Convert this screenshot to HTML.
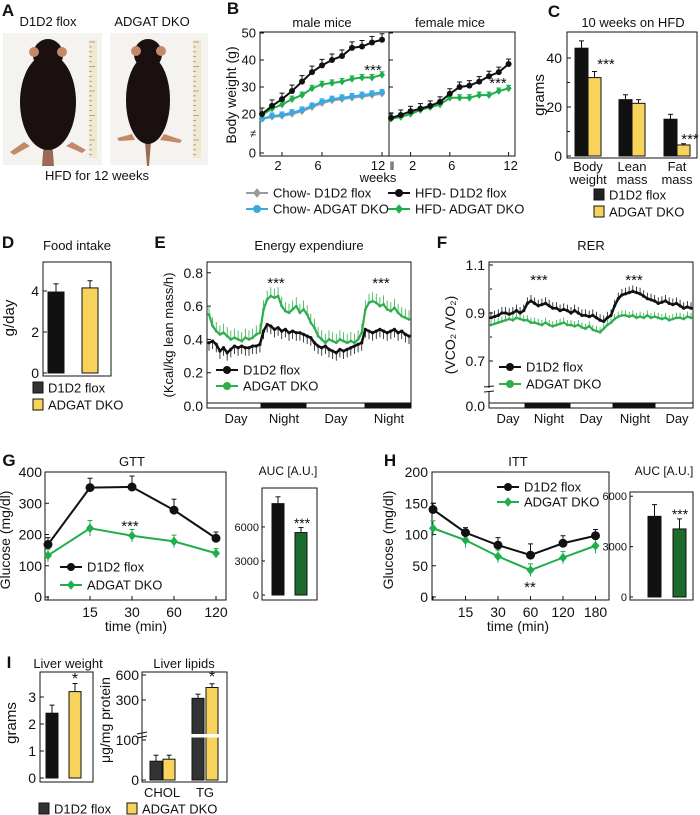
<!DOCTYPE html>
<html><head><meta charset="utf-8"><style>
html,body{margin:0;padding:0;background:#fff;}
svg{display:block;font-family:"Liberation Sans",sans-serif;}
</style></head><body>
<svg id="fig" width="700" height="815" viewBox="0 0 700 815"></svg>
<script>
// ---- data ----
const bWeeks=[0,1,2,3,4,5,6,7,8,9,10,11,12];
const maleHfdFlox=[20,23,25.5,28.5,32,35.5,38,40,41.5,44.5,45,46.5,47.5];
const maleHfdDko=[19.5,22,23.5,25.5,27,29.5,31,31.5,32,33,33.5,33.5,34.5];
const maleChowFlox=[17.5,18.5,19,20,21,22.5,24,25,25.5,26,26.5,27,27.5];
const maleChowDko=[17.5,19,19.5,20.5,21.5,23,24.5,25.5,26,26.5,27,27.5,28];
const femHfdFlox=[18,19.5,21,22,23,24.5,27.5,30,30.5,32,34,35.5,38.5];
const femHfdDko=[17.5,18.5,20,21.5,22.5,23.5,26,26,26,27,27,28.5,29.5];
const cCats=["Body weight","Lean mass","Fat mass"];
const cFlox=[44,23,15], cFloxErr=[3,2,2];
const cDko=[32,21.5,4.5], cDkoErr=[2.5,1.5,0.5];
const dVals=[3.95,4.15], dErr=[0.4,0.35];
const eFlox=[0.38,0.39,0.37,0.33,0.35,0.32,0.34,0.36,0.35,0.36,0.35,0.35,0.36,0.36,0.37,
0.45,0.49,0.48,0.46,0.47,0.45,0.46,0.44,0.45,0.44,0.44,0.43,
0.42,0.41,0.38,0.36,0.35,0.36,0.34,0.33,0.32,0.34,0.33,0.34,0.35,0.36,0.37,0.38,
0.46,0.45,0.44,0.45,0.46,0.45,0.44,0.45,0.46,0.44,0.45,0.43,0.42];
const eDko=[0.55,0.48,0.45,0.43,0.44,0.42,0.40,0.41,0.40,0.39,0.41,0.40,0.41,0.43,0.44,
0.58,0.64,0.66,0.65,0.66,0.60,0.57,0.56,0.58,0.60,0.56,0.58,
0.55,0.50,0.47,0.42,0.40,0.38,0.40,0.39,0.38,0.40,0.39,0.38,0.39,0.38,0.40,0.44,
0.58,0.62,0.63,0.62,0.60,0.61,0.58,0.57,0.59,0.56,0.54,0.53,0.52];
const fFlox=[0.88,0.885,0.89,0.90,0.90,0.895,0.90,0.91,0.90,0.91,
0.94,0.95,0.94,0.93,0.935,0.94,0.93,0.92,0.92,0.91,0.915,0.91,
0.90,0.91,0.90,0.89,0.89,0.885,0.89,0.88,0.87,0.865,0.88,0.89,
0.93,0.96,0.975,0.98,0.985,0.99,0.985,0.98,0.97,0.96,0.955,0.95,
0.94,0.945,0.95,0.94,0.935,0.94,0.93,0.92,0.925,0.92];
const fDko=[0.85,0.855,0.86,0.865,0.87,0.875,0.87,0.88,0.875,0.87,
0.87,0.86,0.86,0.855,0.85,0.86,0.85,0.845,0.85,0.855,0.86,0.85,
0.85,0.845,0.85,0.84,0.835,0.845,0.83,0.825,0.82,0.835,0.85,0.86,
0.875,0.885,0.89,0.89,0.885,0.89,0.88,0.885,0.88,0.89,0.88,0.885,
0.88,0.875,0.88,0.87,0.875,0.88,0.88,0.875,0.885,0.88];
const gTimes=["0","15","30","60","120"];
const gFlox=[168,350,352,278,188], gFloxErr=[22,30,35,35,20];
const gDko=[133,220,196,178,140], gDkoErr=[20,25,20,20,15];
const gAuc=[8050,5500], gAucErr=[600,450];
const hTimes=["0","15","30","60","120","180"];
const hFlox=[140,103,83,67,86,98], hFloxErr=[10,8,12,18,12,10];
const hDko=[110,91,65,43,63,82], hDkoErr=[12,12,10,10,10,12];
const hAuc=[4800,4050], hAucErr=[700,600];
const iWeight=[2.4,3.2], iWeightErr=[0.3,0.3];
const iChol=[47,52], iCholErr=[15,10];
const iTg=[320,450], iTgErr=[50,45];

// ---- helpers ----
const NS='http://www.w3.org/2000/svg';
const svg=document.getElementById('fig');
function mk(tag,attrs,name,parent){
  const el=document.createElementNS(NS,tag);
  for(const k in attrs) el.setAttribute(k,attrs[k]);
  
  
  (parent||svg).appendChild(el);
  return el;
}
function T(x,y,s,size,name,anchor,extra){
  const a=Object.assign({x:x,y:y,'font-size':size,'text-anchor':anchor||'middle',fill:'#111'},extra||{});
  const t=mk('text',a,name);
  t.textContent=s;return t;
}
function VT(x,y,s,size,name){ return T(x,y,s,size,name,'middle',{transform:`rotate(-90 ${x} ${y})`}); }
function L(x1,y1,x2,y2,name,col,w){ return mk('line',{x1:x1,y1:y1,x2:x2,y2:y2,stroke:col||'#111','stroke-width':w||1},name); }
function R(x,y,w,h,name,fill,stroke){ return mk('rect',{x:x,y:y,width:w,height:h,fill:fill||'none',stroke:stroke||'#111','stroke-width':1},name); }
function err(x,y1,y2,name,col){ L(x,y1,x,y2,name,col||'#111',1); L(x-2.5,y2,x+2.5,y2,name+'-cap',col||'#111',1); }
function marker(x,y,shape,col,name,r){
  r=r||3.5;
  if(shape==='d') return mk('path',{d:`M${x} ${y-r-0.8}L${x+r} ${y}L${x} ${y+r+0.8}L${x-r} ${y}Z`,fill:col},name);
  return mk('circle',{cx:x,cy:y,r:r,fill:col},name);
}
function series(xs,ys,col,w,shape,name,errs,r,errBoth){
  mk('polyline',{points:xs.map((x,i)=>x+','+ys[i]).join(' '),fill:'none',stroke:col,'stroke-width':w},name+'-line');
  xs.forEach((x,i)=>{
    if(errs){ err(x,ys[i],ys[i]-errs[i],name+'-err',col); if(errBoth) L(x,ys[i],x,ys[i]+errs[i],name+'-err-low',col,1); }
    marker(x,ys[i],shape,col,name+'-point',r);
  });
}
// dense time series: thin cap-less error bars in one direction (dir=-1 up, +1 down)
function tseries(xs,ys,col,w,name,errPx,dir,r){
  xs.forEach((x,i)=>{ L(x,ys[i],x,ys[i]+dir*errPx,name+'-err',col,0.8); });
  mk('polyline',{points:xs.map((x,i)=>x+','+ys[i]).join(' '),fill:'none',stroke:col,'stroke-width':w},name+'-line');
  xs.forEach((x,i)=>{ marker(x,ys[i],'c',col,name+'-point',r); });
}
function legendLine(x,y,col,shape,label,name){
  L(x,y,x+22,y,name+'-line',col,2);
  marker(x+11,y,shape,col,name+'-marker',4);
  T(x+27,y+4.5,label,13,name+'-label','start');
}
function legendBox(x,y,col,label,name){
  R(x,y-6,10,11,name+'-swatch',col,'#111');
  T(x+15,y+4.5,label,13,name+'-label','start');
}
const GREEN='#1fae4b', LGREEN='#2fae4e', BLUE='#3aa9e0', GRAY='#9a9a9a', YEL='#f8d35c', DGREEN='#1d6b2c';

// ---- Panel A ----
T(8,16,'A',17,'panel-a-label','middle',{'font-weight':'bold'});
T(48,26,'D1D2 flox',13,'photo-label-flox');
T(152,26,'ADGAT DKO',13,'photo-label-dko');
R(3,33,99,132,'photo-flox','#f5f3f0','none');
R(110,33,98,132,'photo-dko','#f5f3f0','none');
[[89,'ruler-flox'],[193,'ruler-dko']].forEach(([rx,n])=>{
  R(rx,40,8,118,n,'#f1e8d2','none');
  for(let k=0;k<24;k++) L(rx,42+k*4.9,rx+(k%5===0?6:3),42+k*4.9,n+'-tick','#8a7a60',0.6);
});
mk('path',{d:'M42 166L44 140L52 140L54 166Z',fill:'#9a6a55'},'mouse-flox-tail');
mk('path',{d:'M147 166L145 142L151 142L149 166Z',fill:'#9a6a55'},'mouse-dko-tail');
mk('ellipse',{cx:48,cy:102,rx:28,ry:48,fill:'#1a1010'},'mouse-flox-body');
mk('ellipse',{cx:48,cy:55,rx:15,ry:16,fill:'#1a1010'},'mouse-flox-head');
mk('circle',{cx:34,cy:52,r:5,fill:'#c48a68'},'mouse-flox-ear');
mk('circle',{cx:62,cy:52,r:5,fill:'#c48a68'},'mouse-flox-ear');
mk('path',{d:'M24 142L10 152L14 155L30 146Z M72 142L86 150L82 153L66 146Z',fill:'#c48a68'},'mouse-flox-feet');
mk('ellipse',{cx:148,cy:100,rx:22,ry:44,fill:'#1a1010'},'mouse-dko-body');
mk('ellipse',{cx:148,cy:54,rx:14,ry:15,fill:'#1a1010'},'mouse-dko-head');
mk('circle',{cx:136,cy:51,r:5,fill:'#c48a68'},'mouse-dko-ear');
mk('circle',{cx:161,cy:51,r:5,fill:'#c48a68'},'mouse-dko-ear');
mk('path',{d:'M132 134L117 138L119 141L135 140Z M164 134L182 140L180 143L160 140Z',fill:'#c48a68'},'mouse-dko-feet');
T(97,180,'HFD for 12 weeks',13,'photo-caption');

// ---- Panel B ----
T(233,14,'B',17,'panel-b-label','middle',{'font-weight':'bold'});
T(322,27,'male mice',13,'male-title');
T(450,27,'female mice',13,'female-title');
const yB=v=>v>=20?114-(v-20)*2.7:153-v*1.95;
const xM=w=>262+w*10, xF=w=>391+w*9.8;
R(260,32,255,124,'panel-b-frame');
L(389,32,389,156,'panel-b-divider');
[[50,'50'],[40,'40'],[30,'30'],[20,'20'],[0,'0']].forEach(([v,s])=>{
  L(260,yB(v),264,yB(v),'b-ytick'); T(256,yB(v)+4.5,s,13,'b-ytick-label','end');
  if(v>0) L(389,yB(v),393,yB(v),'b-female-ytick');
});
T(256,137,'≠',11,'b-axis-break','end');
VT(236,95,'Body weight (g)',14,'b-y-axis-title');
[2,6,12].forEach(w=>{L(xM(w),156,xM(w),152,'b-male-xtick');T(xM(w)-4,170,String(w),13,'b-male-xtick-label');});
[2,6,12].forEach(w=>{L(xF(w),156,xF(w),152,'b-female-xtick');T(xF(w)+2,170,String(w),13,'b-female-xtick-label');});
T(392,170,'ǁ',12,'b-x-axis-break');
T(378,182,'weeks',13,'b-x-axis-title');
const mx=bWeeks.map(xM), fx=bWeeks.map(xF);
series(mx,maleChowFlox.map(yB),GRAY,2,'d','male-chow-flox',maleChowFlox.map(()=>2.5),3);
series(mx,maleChowDko.map(yB),BLUE,2,'c','male-chow-dko',maleChowDko.map(()=>3),3);
series(mx,maleHfdDko.map(yB),GREEN,2,'d','male-hfd-dko',maleHfdDko.map(()=>3),3);
series(mx,maleHfdFlox.map(yB),'#111',2,'c','male-hfd-flox',maleHfdFlox.map(()=>6),3);
series(fx,femHfdDko.map(yB),GREEN,2,'d','female-hfd-dko',femHfdDko.map(()=>3),3);
series(fx,femHfdFlox.map(yB),'#111',2,'c','female-hfd-flox',femHfdFlox.map(()=>5),3);
T(373,75,'***',15,'b-male-significance');
T(498,88,'***',15,'b-female-significance');
legendLine(246,193,GRAY,'d','Chow- D1D2 flox','legend-chow-flox');
legendLine(246,209,BLUE,'c','Chow- ADGAT DKO','legend-chow-dko');
legendLine(388,193,'#111','c','HFD- D1D2 flox','legend-hfd-flox');
legendLine(388,209,GREEN,'d','HFD- ADGAT DKO','legend-hfd-dko');

// ---- Panel C ----
T(554,17,'C',17,'panel-c-label','middle',{'font-weight':'bold'});
T(633,27,'10 weeks on HFD',13,'c-title');
const yC=v=>156-v*2.45;
R(567,32,130,126,'panel-c-frame');
[0,20,40].forEach(v=>{L(567,yC(v),571,yC(v),'c-ytick');T(562,yC(v)+5,String(v),14,'c-ytick-label','end');});
L(567,yC(10),570,yC(10),'c-ytick-minor');L(567,yC(30),570,yC(30),'c-ytick-minor');
VT(544,95,'grams',15,'c-y-axis-title');
const cX=[575,619,664];
cCats.forEach((c,i)=>{
  R(cX[i],yC(cFlox[i]),13,yC(0)-yC(cFlox[i]),'c-bar-flox','#111');
  err(cX[i]+6.5,yC(cFlox[i]),yC(cFlox[i]+cFloxErr[i]),'c-err-flox');
  R(cX[i]+13,yC(cDko[i]),13,yC(0)-yC(cDko[i]),'c-bar-dko',YEL);
  err(cX[i]+19.5,yC(cDko[i]),yC(cDko[i]+cDkoErr[i]),'c-err-dko');
  const w=c.split(' ');
  T(cX[i]+13,171,w[0],13,'c-category-label');T(cX[i]+13,184,w[1],13,'c-category-label');
});
T(606,69,'***',15,'c-body-significance');T(690,144,'***',15,'c-fat-significance');
legendBox(594,195,'#222','D1D2 flox','c-legend-flox');
legendBox(594,212,YEL,'ADGAT DKO','c-legend-dko');

// ---- Panel D ----
T(8,248,'D',17,'panel-d-label','middle',{'font-weight':'bold'});
T(77,250,'Food intake',13,'d-title');
const yD=v=>373-v*20.5;
R(43,262,68,114,'panel-d-frame');
[0,2,4].forEach(v=>{L(43,yD(v),47,yD(v),'d-ytick');T(39,yD(v)+5,String(v),14,'d-ytick-label','end');});
VT(14,318,'g/day',15,'d-y-axis-title');
[[48,'#111'],[82,YEL]].forEach(([x,c],i)=>{
  R(x,yD(dVals[i]),16,yD(0)-yD(dVals[i]),i?'d-bar-dko':'d-bar-flox',c);
  err(x+8,yD(dVals[i]),yD(dVals[i]+dErr[i]),'d-err');
});
legendBox(33,388,'#333','D1D2 flox','d-legend-flox');
legendBox(33,405,YEL,'ADGAT DKO','d-legend-dko');

// ---- Panel E ----
T(160,248,'E',17,'panel-e-label','middle',{'font-weight':'bold'});
T(309,250,'Energy expendiure',13,'e-title');
const yE=v=>406-v*166.5;
const xE=i=>209+i*(200/(eFlox.length-1));
R(207,262,204,146,'panel-e-frame');
[[0.8,'0.8'],[0.6,'0.6'],[0.4,'0.4'],[0.2,'0.2'],[0,'0.0']].forEach(([v,s])=>{L(207,yE(v),211,yE(v),'e-ytick');T(203,yE(v)+5,s,14,'e-ytick-label','end');});
VT(173,335,'(Kcal/kg lean mass/h)',13,'e-y-axis-title');
R(207,403,204,5,'e-daynight-bar','#fff');
R(261,403,45,5,'e-night-1','#111');R(365,403,46,5,'e-night-2','#111');
[[236,'Day'],[284,'Night'],[336,'Day'],[389,'Night']].forEach(([x,s])=>T(x,423,s,13,'e-period-label'));
const ex=eFlox.map((v,i)=>xE(i));
tseries(ex,eDko.map(yE),LGREEN,2.2,'e-dko',9,-1,1.4);
tseries(ex,eFlox.map(yE),'#111',2.5,'e-flox',8,1,1.6);
T(276,288,'***',15,'e-night1-significance');T(381,288,'***',15,'e-night2-significance');
legendLine(216,370,'#111','c','D1D2 flox','e-legend-flox');
legendLine(216,386,LGREEN,'c','ADGAT DKO','e-legend-dko');

// ---- Panel F ----
T(442,248,'F',17,'panel-f-label','middle',{'font-weight':'bold'});
T(591,250,'RER',13,'f-title');
const yF=v=>v<0.5?406:313-(v-0.9)*240;
const xFr=i=>491+i*(200/(fFlox.length-1));
R(489,262,204,146,'panel-f-frame');
[[1.1,'1.1'],[0.9,'0.9'],[0.7,'0.7'],[0,'0.0']].forEach(([v,s])=>{L(489,yF(v),493,yF(v),'f-ytick');T(485,yF(v)+5,s,14,'f-ytick-label','end');});
L(490,313-(1.0-0.9)*240,492,313-(1.0-0.9)*240,'f-ytick-minor');L(490,313+0.1*240,492,313+0.1*240,'f-ytick-minor');
mk('rect',{x:485,y:388,width:8,height:4,fill:'#fff'},'f-axis-break-gap');
L(484,387,494,386,'f-axis-break');L(484,392,494,391,'f-axis-break');
VT(455,335,'(VCO₂ /VO₂)',14,'f-y-axis-title');
R(489,403,204,5,'f-daynight-bar','#fff');
R(525,403,45,5,'f-night-1','#111');R(613,403,42,5,'f-night-2','#111');
[[508,'Day'],[549,'Night'],[591,'Day'],[635,'Night'],[677,'Day']].forEach(([x,s])=>T(x,423,s,13,'f-period-label'));
const fxs=fFlox.map((v,i)=>xFr(i));
tseries(fxs,fDko.map(yF),LGREEN,2.2,'f-dko',5,-1,1.4);
tseries(fxs,fFlox.map(yF),'#111',2.5,'f-flox',6,-1,1.6);
T(539,285,'***',15,'f-night1-significance');T(634,285,'***',15,'f-night2-significance');
legendLine(499,367,'#111','c','D1D2 flox','f-legend-flox');
legendLine(499,384,LGREEN,'c','ADGAT DKO','f-legend-dko');

// ---- Panel G ----
T(9,466,'G',17,'panel-g-label','middle',{'font-weight':'bold'});
T(132,466,'GTT',13,'g-title');
const yG=v=>597-v*0.3125;
const xG=i=>48+i*42;
R(45,472,181,128,'panel-g-frame');
[0,100,200,300,400].forEach(v=>{L(45,yG(v),49,yG(v),'g-ytick');T(42,yG(v)+5,String(v),14,'g-ytick-label','end');});
VT(10,540,'Glucose (mg/dl)',14,'g-y-axis-title');
gTimes.forEach((t,i)=>{L(xG(i),600,xG(i),596,'g-xtick');if(i)T(xG(i),617,t,14,'g-xtick-label');});
T(136,631,'time (min)',14,'g-x-axis-title');
const gx=gTimes.map((t,i)=>xG(i));
series(gx,gDko.map(yG),GREEN,2,'d','g-dko',gDko.map((v,i)=>yG(v)-yG(v+gDkoErr[i])),4,true);
series(gx,gFlox.map(yG),'#111',2,'c','g-flox',gFlox.map((v,i)=>yG(v)-yG(v+gFloxErr[i])),4.5);
T(130,531,'***',15,'g-significance');
legendLine(60,567,'#111','c','D1D2 flox','g-legend-flox');
legendLine(60,585,GREEN,'d','ADGAT DKO','g-legend-dko');
T(288,475,'AUC [A.U.]',12,'g-auc-title');
const yGa=v=>595-v*0.01135;
R(262,488,55,112,'g-auc-frame');
[0,3000,6000].forEach(v=>{L(262,yGa(v),265,yGa(v),'g-auc-ytick');T(259,yGa(v)+4,String(v),11,'g-auc-ytick-label','end');});
[[272,'#111'],[295,DGREEN]].forEach(([x,c],i)=>{
  R(x,yGa(gAuc[i]),12,yGa(0)-yGa(gAuc[i]),i?'g-auc-bar-dko':'g-auc-bar-flox',c);
  err(x+6,yGa(gAuc[i]),yGa(gAuc[i]+gAucErr[i]),'g-auc-err');
});
T(302,528,'***',14,'g-auc-significance');

// ---- Panel H ----
T(390,466,'H',17,'panel-h-label','middle',{'font-weight':'bold'});
T(518,466,'ITT',13,'h-title');
const yH=v=>597-v*0.625;
const xH=i=>433+i*32.5;
R(432,472,177,128,'panel-h-frame');
[0,50,100,150,200].forEach(v=>{L(432,yH(v),436,yH(v),'h-ytick');T(428,yH(v)+5,String(v),14,'h-ytick-label','end');});
VT(393,540,'Glucose (mg/dl)',14,'h-y-axis-title');
hTimes.forEach((t,i)=>{L(xH(i),600,xH(i),596,'h-xtick');if(i)T(xH(i),617,t,14,'h-xtick-label');});
T(518,631,'time (min)',14,'h-x-axis-title');
const hx=hTimes.map((t,i)=>xH(i));
series(hx,hDko.map(yH),GREEN,2,'d','h-dko',hDko.map((v,i)=>yH(v)-yH(v+hDkoErr[i])),4,true);
series(hx,hFlox.map(yH),'#111',2,'c','h-flox',hFlox.map((v,i)=>yH(v)-yH(v+hFloxErr[i])),4.5);
T(530,592,'**',15,'h-significance');
legendLine(497,487,'#111','c','D1D2 flox','h-legend-flox');
legendLine(497,502,GREEN,'d','ADGAT DKO','h-legend-dko');
T(664,475,'AUC [A.U.]',12,'h-auc-title');
const yHa=v=>597-v*0.0168;
R(630,492,63,108,'h-auc-frame');
[0,3000,6000].forEach(v=>{L(630,yHa(v),633,yHa(v),'h-auc-ytick');T(627,yHa(v)+4,String(v),11,'h-auc-ytick-label','end');});
[[648,'#111'],[673,DGREEN]].forEach(([x,c],i)=>{
  R(x,yHa(hAuc[i]),13,yHa(0)-yHa(hAuc[i]),i?'h-auc-bar-dko':'h-auc-bar-flox',c);
  err(x+6.5,yHa(hAuc[i]),yHa(hAuc[i]+hAucErr[i]),'h-auc-err');
});
T(680,519,'***',14,'h-auc-significance');

// ---- Panel I ----
T(9,668,'I',17,'panel-i-label','middle',{'font-weight':'bold'});
T(68,668,'Liver weight',13,'i-weight-title');
const yIw=v=>778-v*27;
R(40,672,53,110,'i-weight-frame');
[0,1,2,3].forEach(v=>{L(40,yIw(v),44,yIw(v),'i-weight-ytick');T(36,yIw(v)+5,String(v),14,'i-weight-ytick-label','end');});
VT(16,723,'grams',15,'i-weight-y-axis-title');
[[46,'#111'],[69,YEL]].forEach(([x,c],i)=>{
  R(x,yIw(iWeight[i]),12,yIw(0)-yIw(iWeight[i]),i?'i-weight-bar-dko':'i-weight-bar-flox',c);
  err(x+6,yIw(iWeight[i]),yIw(iWeight[i]+iWeightErr[i]),'i-weight-err');
});
T(75,684,'*',16,'i-weight-significance');
T(184,668,'Liver lipids',13,'i-lipids-title');
const yIu=v=>700-(v-300)*(25/300);
const yL=v=>v<=110?780-v*0.4:yIu(v);
R(142,672,85,110,'i-lipids-frame');
[[600,'600'],[300,'300'],[100,'100'],[0,'0']].forEach(([v,s])=>{L(142,yL(v),146,yL(v),'i-lipids-ytick');T(139,yL(v)+5,s,14,'i-lipids-ytick-label','end');});
VT(110,720,'μg/mg protein',14,'i-lipids-y-axis-title');
L(137,734,147,732,'i-lipids-axis-break');L(137,738,147,736,'i-lipids-axis-break');
[[150,'#333'],[163,YEL]].forEach(([x,c],i)=>{
  R(x,yL(iChol[i]),12,yL(0)-yL(iChol[i]),'i-chol-bar',c);
  err(x+6,yL(iChol[i]),yL(iChol[i]+iCholErr[i]),'i-chol-err');
});
[[192,'#333'],[206,YEL]].forEach(([x,c],i)=>{
  R(x,yL(iTg[i]),12,yL(0)-yL(iTg[i]),'i-tg-bar',c);
  err(x+6,yL(iTg[i]),yL(iTg[i]+iTgErr[i]),'i-tg-err');
});
mk('rect',{x:190,y:734,width:30,height:3.5,fill:'#fff'},'i-tg-break-band');
T(212,682,'*',16,'i-tg-significance');
T(162,797,'CHOL',13,'i-chol-label');T(205,797,'TG',13,'i-tg-label');
legendBox(39,809,'#333','D1D2 flox','i-legend-flox');
legendBox(127,809,YEL,'ADGAT DKO','i-legend-dko');
</script>
</body></html>
